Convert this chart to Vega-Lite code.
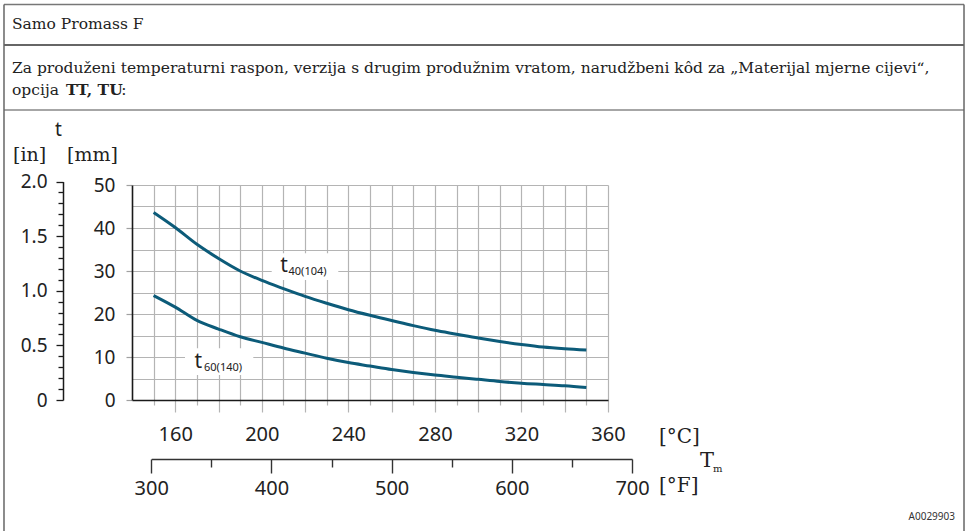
{
  "$schema": "https://vega.github.io/schema/vega-lite/v6.json",
  "width": 476,
  "height": 215,
  "autosize": {"type": "none"},
  "padding": {"left": 132, "top": 185, "right": 359, "bottom": 131},
  "background": "white",
  "config": {"view": {"stroke": null}},
  "datasets": {
    "curves": [
      {"series": "t40", "C": 150, "F": 302, "mm": 43.6, "inch": 1.717},
      {"series": "t40", "C": 160, "F": 320, "mm": 40.1, "inch": 1.579},
      {"series": "t40", "C": 170, "F": 338, "mm": 36.2, "inch": 1.425},
      {"series": "t40", "C": 180, "F": 356, "mm": 32.9, "inch": 1.295},
      {"series": "t40", "C": 190, "F": 374, "mm": 30.0, "inch": 1.181},
      {"series": "t40", "C": 200, "F": 392, "mm": 27.8, "inch": 1.094},
      {"series": "t40", "C": 210, "F": 410, "mm": 25.9, "inch": 1.020},
      {"series": "t40", "C": 220, "F": 428, "mm": 24.1, "inch": 0.949},
      {"series": "t40", "C": 230, "F": 446, "mm": 22.5, "inch": 0.886},
      {"series": "t40", "C": 240, "F": 464, "mm": 21.0, "inch": 0.827},
      {"series": "t40", "C": 250, "F": 482, "mm": 19.7, "inch": 0.776},
      {"series": "t40", "C": 260, "F": 500, "mm": 18.5, "inch": 0.728},
      {"series": "t40", "C": 270, "F": 518, "mm": 17.3, "inch": 0.681},
      {"series": "t40", "C": 280, "F": 536, "mm": 16.2, "inch": 0.638},
      {"series": "t40", "C": 290, "F": 554, "mm": 15.3, "inch": 0.602},
      {"series": "t40", "C": 300, "F": 572, "mm": 14.4, "inch": 0.567},
      {"series": "t40", "C": 310, "F": 590, "mm": 13.6, "inch": 0.535},
      {"series": "t40", "C": 320, "F": 608, "mm": 12.9, "inch": 0.508},
      {"series": "t40", "C": 330, "F": 626, "mm": 12.3, "inch": 0.484},
      {"series": "t40", "C": 340, "F": 644, "mm": 11.9, "inch": 0.469},
      {"series": "t40", "C": 350, "F": 662, "mm": 11.6, "inch": 0.457},
      {"series": "t60", "C": 150, "F": 302, "mm": 24.3, "inch": 0.957},
      {"series": "t60", "C": 160, "F": 320, "mm": 21.6, "inch": 0.850},
      {"series": "t60", "C": 170, "F": 338, "mm": 18.5, "inch": 0.728},
      {"series": "t60", "C": 180, "F": 356, "mm": 16.5, "inch": 0.650},
      {"series": "t60", "C": 190, "F": 374, "mm": 14.7, "inch": 0.579},
      {"series": "t60", "C": 200, "F": 392, "mm": 13.4, "inch": 0.528},
      {"series": "t60", "C": 210, "F": 410, "mm": 12.1, "inch": 0.476},
      {"series": "t60", "C": 220, "F": 428, "mm": 10.9, "inch": 0.429},
      {"series": "t60", "C": 230, "F": 446, "mm": 9.7, "inch": 0.382},
      {"series": "t60", "C": 240, "F": 464, "mm": 8.7, "inch": 0.343},
      {"series": "t60", "C": 250, "F": 482, "mm": 7.9, "inch": 0.311},
      {"series": "t60", "C": 260, "F": 500, "mm": 7.1, "inch": 0.280},
      {"series": "t60", "C": 270, "F": 518, "mm": 6.4, "inch": 0.252},
      {"series": "t60", "C": 280, "F": 536, "mm": 5.8, "inch": 0.228},
      {"series": "t60", "C": 290, "F": 554, "mm": 5.3, "inch": 0.209},
      {"series": "t60", "C": 300, "F": 572, "mm": 4.8, "inch": 0.189},
      {"series": "t60", "C": 310, "F": 590, "mm": 4.3, "inch": 0.169},
      {"series": "t60", "C": 320, "F": 608, "mm": 3.9, "inch": 0.154},
      {"series": "t60", "C": 330, "F": 626, "mm": 3.6, "inch": 0.142},
      {"series": "t60", "C": 340, "F": 644, "mm": 3.3, "inch": 0.130},
      {"series": "t60", "C": 350, "F": 662, "mm": 2.9, "inch": 0.114}
    ],
    "one": [{}]
  },
  "resolve": {
    "scale": {"x": "independent", "y": "independent"},
    "axis": {"x": "independent", "y": "independent"}
  },
  "layer": [
    {
      "data": {"name": "curves"},
      "mark": {"type": "line", "opacity": 0},
      "encoding": {
        "x": {"field": "F", "type": "quantitative",
          "scale": {"domain": [300, 700], "range": [19.23, 500.04], "nice": false, "zero": false},
          "axis": {
            "title": null, "orient": "bottom", "offset": 59,
            "values": [300,350,400,450,500,550,600,650,700],
            "grid": false,
            "domainColor": "#333333", "domainWidth": 1.4,
            "tickColor": "#333333", "tickWidth": 1.4,
            "tickSize": {"condition": {"test": "datum.value % 100 == 0", "value": 14}, "value": 8},
            "labelExpr": "datum.value % 100 == 0 ? datum.label : ''",
            "labelFont": "Noto Sans", "labelFontSize": 20, "labelColor": "#222222",
            "labelPadding": 5, "labelFlush": false, "labelOverlap": false, "labelBound": false
          }
        },
        "y": {"field": "mm", "type": "quantitative", "scale": {"domain": [0, 50], "nice": false, "zero": false}, "axis": null},
        "detail": {"field": "series"}
      }
    },
    {
      "data": {"name": "curves"},
      "mark": {"type": "line", "opacity": 0},
      "encoding": {
        "x": {"field": "C", "type": "quantitative", "scale": {"domain": [140, 360], "nice": false, "zero": false}, "axis": null},
        "y": {"field": "inch", "type": "quantitative",
          "scale": {"domain": [0, 2], "range": [215, -3.44], "nice": false, "zero": false},
          "axis": {
            "title": null, "orient": "left", "offset": 69,
            "values": [0,0.1,0.2,0.3,0.4,0.5,0.6,0.7,0.8,0.9,1,1.1,1.2,1.3,1.4,1.5,1.6,1.7,1.8,1.9,2],
            "grid": false,
            "domainColor": "#1a1a1a", "domainWidth": 1.5,
            "tickColor": "#1a1a1a", "tickWidth": 1.3,
            "tickSize": {"condition": {"test": "datum.value == 0 || datum.value == 0.5 || datum.value == 1 || datum.value == 1.5 || datum.value == 2", "value": 7}, "value": 5},
            "labelExpr": "datum.value == 0 ? '0' : ((datum.value == 0.5 || datum.value == 1 || datum.value == 1.5 || datum.value == 2) ? format(datum.value, '.1f') : '')",
            "labelFont": "Noto Sans", "labelFontSize": 19, "labelColor": "#222222",
            "labelPadding": 9, "labelOverlap": false, "labelBound": false, "labelFlush": false
          }
        },
        "detail": {"field": "series"}
      }
    },
    {
      "encoding": {
        "x": {"type": "quantitative", "scale": {"domain": [140, 360], "nice": false, "zero": false},
          "axis": {
            "title": null, "orient": "bottom",
            "values": [150,160,170,180,190,200,210,220,230,240,250,260,270,280,290,300,310,320,330,340,350,360],
            "grid": true, "gridColor": "#b4b4b4", "gridWidth": 1.2,
            "domainColor": "#1a1a1a", "domainWidth": 1.6,
            "tickColor": "#b4b4b4", "tickWidth": 1.2,
            "tickSize": {"condition": {"test": "datum.value % 20 == 0", "value": 12}, "value": 5},
            "labelExpr": "datum.value % 40 == 0 ? datum.label : ''",
            "labelFont": "Noto Sans", "labelFontSize": 20, "labelColor": "#222222",
            "labelPadding": 12, "labelFlush": false, "labelOverlap": false, "labelBound": false
          }
        },
        "y": {"type": "quantitative", "scale": {"domain": [0, 50], "nice": false, "zero": false},
          "axis": {
            "title": null, "orient": "left",
            "values": [0,5,10,15,20,25,30,35,40,45,50],
            "grid": true, "gridColor": "#b4b4b4", "gridWidth": 1.2,
            "domainColor": "#1a1a1a", "domainWidth": 1.6,
            "tickColor": "#a0a0a0", "tickWidth": 1.2, "tickSize": 6,
            "tickOpacity": {"condition": {"test": "datum.value % 10 == 0", "value": 1}, "value": 0},
            "labelExpr": "datum.value % 10 == 0 ? datum.label : ''",
            "labelFont": "Noto Sans", "labelFontSize": 19, "labelColor": "#222222",
            "labelPadding": 11, "labelOverlap": false, "labelBound": false, "labelFlush": false
          }
        }
      },
      "layer": [
        {
          "data": {"name": "one"},
          "mark": {"type": "rect", "fill": "white"},
          "encoding": {"x": {"datum": 204.57}, "x2": {"datum": 235.35}, "y": {"datum": 27.91}, "y2": {"datum": 34.12}}
        },
        {
          "data": {"name": "one"},
          "mark": {"type": "rect", "fill": "white"},
          "encoding": {"x": {"datum": 164.5}, "x2": {"datum": 196.06}, "y": {"datum": 5.81}, "y2": {"datum": 12.02}}
        },
        {
          "data": {"name": "curves"},
          "mark": {"type": "line", "color": "#0c5b79", "strokeWidth": 3, "interpolate": "monotone"},
          "encoding": {
            "x": {"field": "C"},
            "y": {"field": "mm"},
            "detail": {"field": "series"}
          }
        },
        {
          "data": {"name": "one"},
          "mark": {"type": "rule", "color": "#777777", "strokeWidth": 1.5},
          "encoding": {"x": {"datum": 80.84}, "x2": {"datum": 524.54}, "y": {"datum": 91.98}}
        },
        {
          "data": {"name": "one"},
          "mark": {"type": "rule", "color": "#333333", "strokeWidth": 1.5},
          "encoding": {"x": {"datum": 80.84}, "x2": {"datum": 524.54}, "y": {"datum": 82.56}}
        },
        {
          "data": {"name": "one"},
          "mark": {"type": "rule", "color": "#888888", "strokeWidth": 1.5},
          "encoding": {"x": {"datum": 80.84}, "x2": {"datum": 524.54}, "y": {"datum": 67.44}}
        },
        {
          "data": {"name": "one"},
          "mark": {"type": "rule", "color": "#666666", "strokeWidth": 1.5},
          "encoding": {"x": {"datum": 80.84}, "y": {"datum": 91.98}, "y2": {"datum": -31}}
        },
        {
          "data": {"name": "one"},
          "mark": {"type": "rule", "color": "#666666", "strokeWidth": 1.5},
          "encoding": {"x": {"datum": 524.54}, "y": {"datum": 91.98}, "y2": {"datum": -31}}
        },
        {
          "data": {"name": "one"},
          "mark": {"type": "text", "text": "Samo Promass F", "font": "DejaVu Serif", "fontSize": 15.5, "color": "#222222", "align": "left", "baseline": "alphabetic"},
          "encoding": {"x": {"datum": 84.54}, "y": {"datum": 86.28}}
        },
        {
          "data": {"name": "one"},
          "mark": {"type": "text", "text": "Za produženi temperaturni raspon, verzija s drugim produžnim vratom, narudžbeni kôd za „Materijal mjerne cijevi“,", "font": "DejaVu Serif", "fontSize": 15.5, "color": "#222222", "align": "left", "baseline": "alphabetic"},
          "encoding": {"x": {"datum": 84.54}, "y": {"datum": 76.05}}
        },
        {
          "data": {"name": "one"},
          "mark": {"type": "text", "text": "opcija", "font": "DejaVu Serif", "fontSize": 15.5, "color": "#222222", "align": "left", "baseline": "alphabetic"},
          "encoding": {"x": {"datum": 84.54}, "y": {"datum": 70.93}}
        },
        {
          "data": {"name": "one"},
          "mark": {"type": "text", "text": "TT, TU", "font": "DejaVu Serif", "fontSize": 15.5, "fontWeight": "bold", "color": "#222222", "align": "left", "baseline": "alphabetic"},
          "encoding": {"x": {"datum": 109.5}, "y": {"datum": 70.93}}
        },
        {
          "data": {"name": "one"},
          "mark": {"type": "text", "text": ":", "font": "DejaVu Serif", "fontSize": 15.5, "color": "#222222", "align": "left", "baseline": "alphabetic"},
          "encoding": {"x": {"datum": 135.0}, "y": {"datum": 70.93}}
        },
        {
          "data": {"name": "one"},
          "mark": {"type": "text", "text": "t", "font": "Noto Sans", "fontSize": 19, "color": "#222222", "align": "center", "baseline": "alphabetic"},
          "encoding": {"x": {"datum": 106.03}, "y": {"datum": 61.4}}
        },
        {
          "data": {"name": "one"},
          "mark": {"type": "text", "text": "[in]", "font": "DejaVu Serif", "fontSize": 19, "color": "#222222", "align": "left", "baseline": "alphabetic"},
          "encoding": {"x": {"datum": 85.0}, "y": {"datum": 55.6}}
        },
        {
          "data": {"name": "one"},
          "mark": {"type": "text", "text": "[mm]", "font": "DejaVu Serif", "fontSize": 19, "color": "#222222", "align": "left", "baseline": "alphabetic"},
          "encoding": {"x": {"datum": 109.96}, "y": {"datum": 55.6}}
        },
        {
          "data": {"name": "one"},
          "mark": {"type": "text", "text": "[°C]", "font": "DejaVu Serif", "fontSize": 20, "color": "#222222", "align": "left", "baseline": "middle"},
          "encoding": {"x": {"datum": 383.57}, "y": {"datum": -8.6}}
        },
        {
          "data": {"name": "one"},
          "mark": {"type": "text", "text": "[°F]", "font": "DejaVu Serif", "fontSize": 20, "color": "#222222", "align": "left", "baseline": "middle"},
          "encoding": {"x": {"datum": 383.57}, "y": {"datum": -20.0}}
        },
        {
          "data": {"name": "one"},
          "mark": {"type": "text", "text": "T", "font": "DejaVu Serif", "fontSize": 21, "color": "#222222", "align": "left", "baseline": "alphabetic"},
          "encoding": {"x": {"datum": 402.52}, "y": {"datum": -15.58}}
        },
        {
          "data": {"name": "one"},
          "mark": {"type": "text", "text": "m", "font": "DejaVu Serif", "fontSize": 10, "color": "#222222", "align": "left", "baseline": "alphabetic"},
          "encoding": {"x": {"datum": 408.53}, "y": {"datum": -16.74}}
        },
        {
          "data": {"name": "one"},
          "mark": {"type": "text", "text": "A0029903", "font": "Noto Sans", "fontSize": 10, "color": "#333333", "align": "right", "baseline": "middle"},
          "encoding": {"x": {"datum": 520.38}, "y": {"datum": -27.21}}
        },
        {
          "data": {"name": "one"},
          "mark": {"type": "text", "text": "t", "font": "Noto Sans", "fontSize": 21, "color": "#222222", "align": "center", "baseline": "alphabetic"},
          "encoding": {"x": {"datum": 210.25}, "y": {"datum": 29.84}}
        },
        {
          "data": {"name": "one"},
          "mark": {"type": "text", "text": "40(104)", "font": "Noto Sans", "fontSize": 11, "color": "#222222", "align": "left", "baseline": "alphabetic"},
          "encoding": {"x": {"datum": 212.33}, "y": {"datum": 29.07}}
        },
        {
          "data": {"name": "one"},
          "mark": {"type": "text", "text": "t", "font": "Noto Sans", "fontSize": 21, "color": "#222222", "align": "center", "baseline": "alphabetic"},
          "encoding": {"x": {"datum": 170.65}, "y": {"datum": 7.44}}
        },
        {
          "data": {"name": "one"},
          "mark": {"type": "text", "text": "60(140)", "font": "Noto Sans", "fontSize": 11, "color": "#222222", "align": "left", "baseline": "alphabetic"},
          "encoding": {"x": {"datum": 173.28}, "y": {"datum": 6.63}}
        }
      ]
    }
  ]
}
